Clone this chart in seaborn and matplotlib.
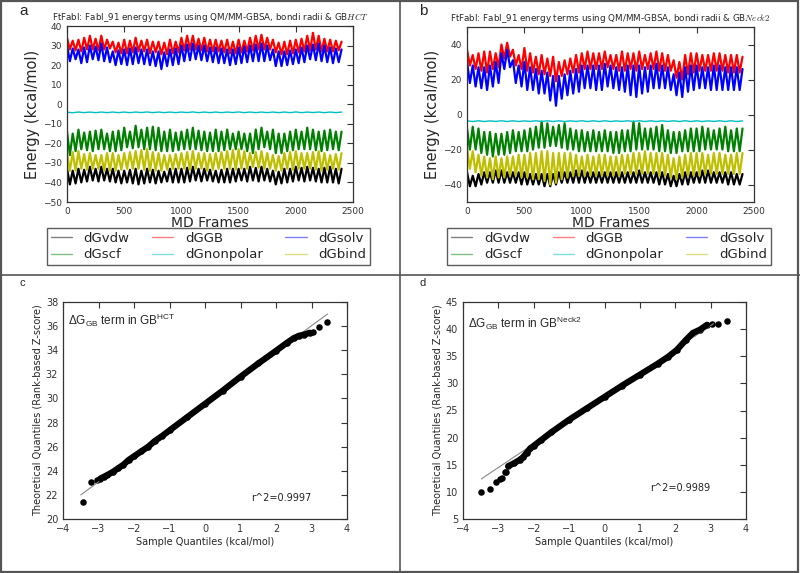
import pandas as pd
import seaborn as sns
import matplotlib.pyplot as plt
from matplotlib.lines import Line2D
from matplotlib.patches import Rectangle

peak_frames = list(range(0, 2401, 50))
trough_frames = list(range(25, 2400, 50))
# the flat dGnonpolar trace was read more coarsely
flat_peak_frames = list(range(0, 2401, 100))
flat_trough_frames = list(range(50, 2400, 100))

terms = ["dGvdw", "dGscf", "dGGB", "dGnonpolar", "dGsolv", "dGbind"]
term_colors = ["black", "#008000", "red", "#00bfbf", "blue", "#bfbf00"]

# ---- panel a: GB HCT ----
hct_vdw_hi = [-33, -34, -33, -33.5, -32, -33, -32, -33, -33, -34, -34, -33.5, -33, -34, -33, -33.5,
              -34, -34.5, -33, -33, -33, -32.5, -32, -33, -33, -33.5, -34, -33.5, -33, -33, -33, -33,
              -32, -32.5, -32, -33, -34, -34.5, -33, -33, -32, -32.5, -32, -32.5, -33, -32.5, -32, -33, -33]
hct_vdw_lo = [-41, -40.5, -40, -39.5, -39, -39.5, -39, -39.5, -40, -40.5, -40, -40.5, -41, -40.5, -40, -40.5,
              -40, -39.5, -40, -40, -40, -39.5, -39, -39.5, -39, -39.5, -40, -40, -40, -39.5, -39, -39.5,
              -39, -39.5, -39, -39.5, -41, -40.5, -40, -39.5, -39, -39.5, -39, -39.5, -40, -40, -40, -40.5]
hct_scf_hi = [-14, -15, -13, -14.5, -14, -13.5, -13, -15, -14, -13.5, -12, -14, -11, -13, -12, -11.5,
              -12, -14, -13, -14.5, -14, -13, -12, -13.5, -14, -14.5, -13, -14, -13, -15, -14, -15,
              -15, -13, -12, -14, -13, -15, -15, -14, -13, -14, -12, -13, -14, -13.5, -13, -14, -14]
hct_scf_lo = [-26, -24, -23, -23.5, -24, -23, -23, -24, -24, -23.5, -22, -22.5, -22, -23, -23, -23.5,
              -24, -24, -24, -23.5, -23, -23, -23, -23.5, -24, -24, -24, -23.5, -23, -23, -23, -24,
              -25, -23, -22, -23, -25, -25, -24, -23.5, -23, -23, -23, -23.5, -24, -23.5, -23, -23.5]
hct_gb_hi = [34, 32.5, 33, 34, 35, 33.5, 35, 33, 32, 31.5, 33, 32.5, 34, 32.5, 33, 32,
             32, 31.5, 33, 32, 34, 35, 35, 33.5, 34, 33, 33, 32.5, 33, 32, 33, 32.5,
             34, 35, 35.5, 34, 33, 31.5, 32, 32.5, 33, 33.5, 35, 36.5, 35, 33.5, 33, 32.5, 32]
hct_gb_lo = [28, 27.5, 27, 28, 28, 27.5, 28, 28.5, 26.5, 26, 26, 26.5, 27, 27, 26, 26.5,
             25.5, 25.5, 26, 26.5, 27.5, 28, 28, 27.5, 27, 27, 27, 26.5, 26, 26, 26.5, 27,
             27.5, 28, 28, 28, 26.5, 25.5, 25.5, 26, 26.5, 27, 27.5, 28, 27, 27, 27, 27.5]
hct_np_hi = [-4.1, -4.0, -4.0, -4.0, -4.0, -4.0, -4.0, -3.95, -4.0, -4.0, -4.0, -3.95, -4.0,
             -4.0, -4.0, -3.95, -4.0, -4.0, -4.0, -4.0, -3.95, -4.0, -4.0, -4.0, -4.0]
hct_np_lo = [-4.35, -4.3, -4.3, -4.3, -4.3, -4.3, -4.25, -4.3, -4.3, -4.3, -4.25, -4.3,
             -4.3, -4.3, -4.25, -4.3, -4.3, -4.3, -4.3, -4.3, -4.3, -4.25, -4.3, -4.3]
hct_solv_hi = [30, 28.5, 28, 29, 30, 29.5, 31, 29, 27, 27.5, 28, 28.5, 29, 28, 28, 27,
               27, 26.5, 28, 28.5, 30, 30.5, 31, 30, 30, 29, 29, 28.5, 28, 28, 29, 29.5,
               30, 30.5, 31, 30, 28, 27, 27, 27.5, 28, 29, 30, 30.5, 31, 30, 29, 28.5, 28]
hct_solv_lo = [22, 23, 21, 21.5, 23, 22.5, 22, 21.5, 20, 20.5, 20, 20.5, 21, 20.5, 20, 19.5,
               18, 19.5, 20, 20.5, 22, 22.5, 23, 22.5, 22, 21.5, 21, 21, 20, 20.5, 21, 21.5,
               22, 22, 22, 22.5, 19.5, 19.5, 20, 20.5, 21, 21.5, 23, 22.5, 22, 21.5, 21, 21.5]
hct_bind_hi = [-25, -24.5, -24, -25.5, -25, -26, -26, -25, -25, -26, -25, -24.5, -24, -23.5, -23, -24.5,
               -25, -26, -26, -25.5, -25, -24.5, -24, -25, -25, -25.5, -25, -24.5, -24, -23.5, -23, -24,
               -25, -24.5, -24, -25, -26, -26.5, -25, -24.5, -24, -25, -25, -24.5, -24, -25, -26, -25.5, -25]
hct_bind_lo = [-34, -34, -33, -33.5, -33, -33, -34, -34, -34, -33.5, -33, -33, -33, -33.5, -34, -34,
               -34, -33.5, -33, -33, -33, -33.5, -33, -33, -34, -33.5, -33, -33, -33, -33.5, -33, -33,
               -32, -32.5, -33, -33, -34, -34, -33, -33.5, -33, -33, -33, -33.5, -34, -33.5, -33, -33.5]

# ---- panel b: GB Neck2 ----
neck_vdw_hi = [-33, -35, -34, -33, -33, -32, -32, -33, -33, -33, -33, -34, -34, -34, -34, -34,
               -33, -33, -33, -32, -32, -33, -33, -33, -33, -33, -33, -33, -33, -33, -32, -33,
               -33, -33, -33, -34, -35, -34, -33, -33, -33, -32, -32, -33, -33, -33, -33, -34, -34]
neck_vdw_lo = [-41, -41, -40, -39, -39, -39, -39, -39, -39, -40, -40, -40, -40, -41, -41, -40,
               -39, -39, -39, -39, -39, -39, -39, -39, -39, -39, -39, -39, -39, -39, -39, -39,
               -39, -40, -40, -41, -41, -40, -40, -39, -39, -39, -39, -39, -39, -40, -40, -40]
neck_scf_hi = [-8, -7, -8, -10, -10, -11, -11, -10, -9, -10, -9, -8, -7, -4, -5, -7,
               -6, -5, -8, -9, -9, -10, -9, -10, -9, -10, -10, -9, -9, -4, -5, -8,
               -8, -7, -6, -9, -10, -10, -9, -8, -8, -7, -8, -9, -8, -7, -9, -8, -8]
neck_scf_lo = [-20, -20, -22, -23, -24, -23, -23, -22, -21, -21, -21, -20, -19, -19, -18, -18,
               -19, -20, -20, -21, -21, -21, -21, -21, -21, -22, -22, -21, -21, -20, -20, -20,
               -20, -21, -21, -22, -22, -21, -21, -21, -21, -20, -20, -20, -20, -21, -21, -21]
neck_gb_hi = [37, 34, 35, 36, 36, 35, 40, 41, 37, 34, 38, 35, 33, 34, 32, 33,
              30, 31, 32, 34, 35, 36, 35, 35, 36, 34, 34, 36, 35, 35, 36, 34,
              35, 36, 35, 34, 31, 30, 34, 35, 35, 34, 34, 35, 35, 34, 34, 34, 33]
neck_gb_lo = [28, 26, 25, 24, 26, 27, 32, 33, 28, 26, 25, 24, 23, 23, 22, 19,
              22, 23, 24, 24, 26, 26, 26, 26, 27, 26, 25, 25, 26, 25, 26, 26,
              26, 25, 25, 25, 21, 20, 23, 24, 25, 25, 25, 25, 25, 24, 24, 24]
neck_np_hi = [-3.6, -3.6, -3.65, -3.6, -3.6, -3.65, -3.6, -3.6, -3.6, -3.65, -3.6, -3.6, -3.6,
              -3.65, -3.6, -3.6, -3.6, -3.65, -3.6, -3.6, -3.6, -3.65, -3.6, -3.6, -3.65]
neck_np_lo = [-4.0, -4.0, -3.95, -4.0, -4.0, -3.95, -4.0, -4.0, -4.0, -3.95, -4.0, -4.0,
              -4.0, -3.95, -4.0, -4.0, -4.0, -3.95, -4.0, -4.0, -4.0, -3.95, -4.0, -4.0]
neck_solv_hi = [30, 28, 27, 27, 28, 30, 35, 37, 31, 28, 30, 27, 26, 25, 24, 22,
                22, 23, 25, 26, 28, 28, 28, 28, 29, 28, 27, 27, 28, 28, 28, 27,
                28, 29, 28, 27, 23, 24, 27, 28, 28, 27, 27, 28, 28, 27, 27, 27, 26]
neck_solv_lo = [18, 16, 15, 14, 16, 18, 26, 27, 18, 16, 14, 14, 12, 12, 8, 5,
                9, 11, 12, 13, 15, 15, 14, 14, 16, 15, 14, 13, 11, 10, 12, 13,
                15, 15, 15, 14, 11, 10, 13, 14, 15, 15, 14, 14, 14, 14, 14, 14]
neck_bind_hi = [-19, -21, -23, -24, -25, -24, -25, -24, -24, -23, -23, -22, -22, -21, -21, -22,
                -22, -22, -22, -23, -24, -23, -24, -23, -23, -24, -24, -23, -23, -22, -22, -21,
                -22, -22, -22, -23, -25, -24, -23, -22, -22, -22, -23, -22, -22, -23, -23, -22, -22]
neck_bind_lo = [-31, -33, -35, -36, -37, -36, -36, -35, -35, -36, -36, -37, -37, -38, -40, -39,
                -37, -36, -35, -35, -35, -35, -35, -35, -35, -35, -35, -34, -34, -34, -34, -34,
                -34, -35, -35, -36, -37, -36, -35, -35, -35, -34, -34, -34, -34, -34, -34, -34]

# ---- panels c / d: Q-Q points (z-score, dGGB) ----
qq_hct_tail_x = [-3.45, -3.2, -3.05, 3.05, 3.2, 3.45]
qq_hct_tail_y = [21.4, 23.1, 23.25, 35.55, 35.9, 36.35]
qq_hct_x = [-2.95, -2.85, -2.75, -2.6, -2.45, -2.3, -2.15, -2.0, -1.8, -1.6, -1.4, -1.2,
            -1.0, -0.5, 0.0, 0.5, 1.0, 1.5, 2.0, 2.3, 2.5, 2.65, 2.8, 2.95]
qq_hct_y = [23.35, 23.5, 23.65, 23.9, 24.2, 24.5, 24.9, 25.2, 25.6, 26.0, 26.5, 26.9,
            27.35, 28.45, 29.55, 30.65, 31.8, 32.9, 33.95, 34.6, 35.0, 35.2, 35.3, 35.45]
qq_hct_ref_x = [-3.5, 3.45]
qq_hct_ref_y = [22.0, 37.0]

qq_neck_tail_x = [-3.48, -3.23, -3.07, -2.96, -2.9, -2.82, -2.78, 3.05, 3.2, 3.46]
qq_neck_tail_y = [10.0, 10.55, 11.85, 12.4, 12.6, 13.65, 13.75, 40.95, 41.0, 41.45]
qq_neck_x = [-2.72, -2.55, -2.4, -2.3, -2.2, -2.1, -2.0, -1.8, -1.5, -1.0, -0.5, 0.0,
             0.5, 1.0, 1.5, 1.8, 2.05, 2.3, 2.5, 2.7, 2.9]
qq_neck_y = [14.75, 15.3, 15.9, 16.4, 17.2, 18.0, 18.5, 19.5, 21.0, 23.3, 25.4, 27.5,
             29.6, 31.6, 33.6, 34.9, 36.2, 38.0, 39.3, 39.9, 40.8]
qq_neck_ref_x = [-3.48, 3.08]
qq_neck_ref_y = [12.4, 41.0]


def trace(hi, lo):
    if len(hi) == len(flat_peak_frames):
        frames = flat_peak_frames + flat_trough_frames
    else:
        frames = peak_frames + trough_frames
    return pd.DataFrame({"frame": frames, "energy": hi + lo})


def style_axes(ax, size=7):
    ax.tick_params(direction="in", top=True, right=True, labelsize=size,
                   length=4, width=0.8, colors="#333333")
    for s in ax.spines.values():
        s.set_color("#333333")
        s.set_linewidth(0.9)


def energy_panel(ax, series, title, ylim, yticks):
    for (hi, lo), color in zip(series, term_colors):
        lw = 1.0 if len(hi) == len(flat_peak_frames) else 1.6
        sns.lineplot(data=trace(hi, lo), x="frame", y="energy", color=color,
                     lw=lw, estimator=None, ax=ax)
    ax.set_xlim(0, 2500)
    ax.set_xticks([0, 500, 1000, 1500, 2000, 2500])
    ax.set_ylim(*ylim)
    ax.set_yticks(yticks)
    ax.set_xlabel("MD Frames", fontsize=10, labelpad=0)
    ax.set_ylabel("Energy (kcal/mol)", fontsize=10.5, labelpad=2)
    ax.set_title(title, fontsize=6.3, pad=4.5, math_fontfamily="cm")
    style_axes(ax, 6.5)
    handles = [Line2D([], [], color=c, lw=1, alpha=0.5) for c in term_colors]
    ax.legend(handles, terms, loc="upper center", bbox_to_anchor=(0.495, -0.148),
              borderaxespad=0, ncol=3, fontsize=9.5, frameon=True, fancybox=False,
              edgecolor="#333333", handlelength=1.6, columnspacing=1.7,
              handletextpad=0.9, labelspacing=0.25, borderpad=0.3)


def qq_panel(ax, x, y, tail_x, tail_y, ref_x, ref_y, ylim, yticks, label, r2, r2_y, lab_y):
    sns.lineplot(x=ref_x, y=ref_y, color="#888888", lw=0.8, ax=ax)
    sns.lineplot(x=x, y=y, color="black", lw=4.5, estimator=None, ax=ax)
    sns.scatterplot(x=x + tail_x, y=y + tail_y, color="black", s=22,
                    edgecolor="black", linewidth=0, ax=ax)
    ax.set_xlim(-4, 4)
    ax.set_xticks(range(-4, 5))
    ax.set_ylim(*ylim)
    ax.set_yticks(yticks)
    ax.set_xlabel("Sample Quantiles (kcal/mol)", fontsize=7, labelpad=2)
    ax.set_ylabel("Theoretical Quantiles (Rank-based Z-score)", fontsize=7, labelpad=2)
    ax.text(-3.85, lab_y, label, fontsize=8.5, va="center", family="Liberation Sans")
    ax.text(1.3, r2_y, r2, fontsize=7, va="center", color="#222222")
    style_axes(ax, 7)


sns.set_style("white")
plt.rcParams["font.family"] = ["DejaVu Sans"]
plt.rcParams["mathtext.default"] = "regular"

fig = plt.figure(figsize=(8, 5.73), dpi=100)
ax_a = fig.add_axes([67 / 800, 1 - 202 / 573, 286 / 800, 176 / 573])
ax_b = fig.add_axes([467 / 800, 1 - 202 / 573, 287 / 800, 175 / 573])
ax_c = fig.add_axes([63 / 800, 1 - 519 / 573, 284 / 800, 217 / 573])
ax_d = fig.add_axes([463 / 800, 1 - 519 / 573, 283 / 800, 217 / 573])

energy_panel(ax_a,
             [(hct_vdw_hi, hct_vdw_lo), (hct_scf_hi, hct_scf_lo), (hct_gb_hi, hct_gb_lo),
              (hct_np_hi, hct_np_lo), (hct_solv_hi, hct_solv_lo), (hct_bind_hi, hct_bind_lo)],
             r"FtFabI: FabI_91 energy terms using QM/MM-GBSA, bondi radii & GB$\mathit{HCT}$",
             (-50, 40), range(-50, 41, 10))
energy_panel(ax_b,
             [(neck_vdw_hi, neck_vdw_lo), (neck_scf_hi, neck_scf_lo), (neck_gb_hi, neck_gb_lo),
              (neck_np_hi, neck_np_lo), (neck_solv_hi, neck_solv_lo), (neck_bind_hi, neck_bind_lo)],
             r"FtFabI: FabI_91 energy terms using QM/MM-GBSA, bondi radii & GB$\mathit{Neck2}$",
             (-50, 50), range(-40, 41, 20))

qq_panel(ax_c, qq_hct_x, qq_hct_y, qq_hct_tail_x, qq_hct_tail_y, qq_hct_ref_x, qq_hct_ref_y,
         (20, 38), range(20, 39, 2), "ΔG$_{GB}$ term in GB$^{HCT}$", "r^2=0.9997", 21.75, 36.5)
qq_panel(ax_d, qq_neck_x, qq_neck_y, qq_neck_tail_x, qq_neck_tail_y, qq_neck_ref_x, qq_neck_ref_y,
         (5, 45), range(5, 46, 5), "ΔG$_{GB}$ term in GB$^{Neck2}$", "r^2=0.9989", 10.7, 41.1)

# panel letters
fig.text(19 / 800, 1 - 11 / 573, "a", fontsize=11, va="center", family="Liberation Sans")
fig.text(419 / 800, 1 - 11 / 573, "b", fontsize=11, va="center", family="Liberation Sans")
fig.text(19 / 800, 1 - 283 / 573, "c", fontsize=8, va="center", family="Liberation Sans")
fig.text(419 / 800, 1 - 283 / 573, "d", fontsize=8, va="center", family="Liberation Sans")

# frame and dividers between the four panels
fig.add_artist(Rectangle((0.001, 0.001), 0.997, 0.997, transform=fig.transFigure,
                         fill=False, edgecolor="#555555", lw=1.6))
fig.add_artist(Line2D([0.5, 0.5], [0, 1], transform=fig.transFigure, color="#555555", lw=1.2))
fig.add_artist(Line2D([0, 1], [1 - 275 / 573] * 2, transform=fig.transFigure,
                      color="#555555", lw=1.2))

fig.savefig("out.png", dpi=100)
